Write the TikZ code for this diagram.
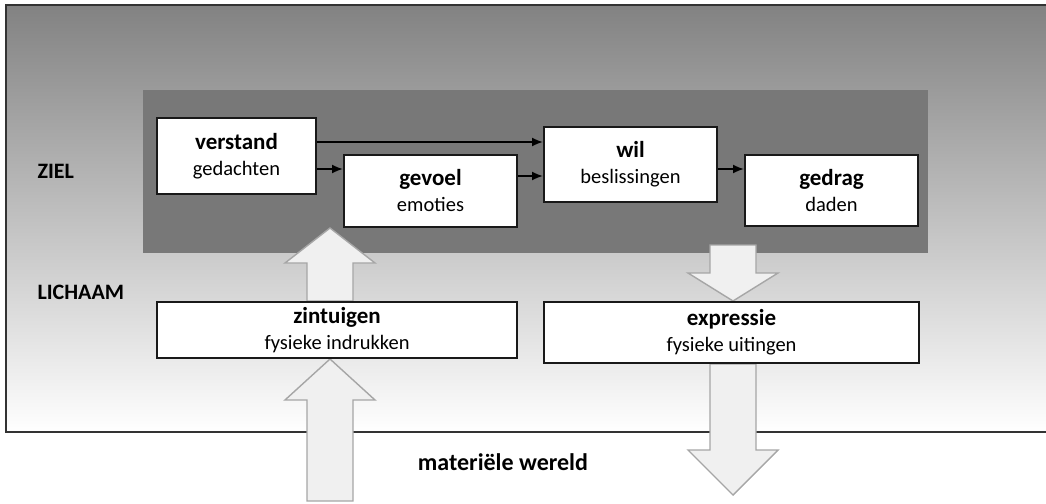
\documentclass[tikz,border=0pt]{standalone}
\usepackage{fontspec}
\setmainfont{Carlito}
\usepackage{tikz}
\usetikzlibrary{arrows.meta, positioning, calc, backgrounds}
\tikzstyle{pijl} = [line width=1.8pt,-{Latex[length=11pt,width=9pt]}]
\tikzstyle{vak} = [draw=black!90, line width=2pt, fill=white, align=center, inner sep=0pt, font=\fontsize{20.5}{26}\selectfont]
\tikzstyle{label} = [font=\fontsize{22}{26}\selectfont\bfseries]
\tikzstyle{blokpijl} = [draw=black!35, line width=1.4pt, fill=black!6]
\newcommand{\kop}[1]{{\fontsize{23}{26}\selectfont\bfseries #1}}
% block arrow: tail, tip, head length
\newcommand{\dikkepijl}[3]{%
  \filldraw[blokpijl] let \p1=(#1), \p2=(#2) in
    ({\x1-23pt},\y1) -- ({\x1-23pt},{\y2-(#3)}) -- ({\x1-45pt},{\y2-(#3)}) -- (\x1,\y2)
    -- ({\x1+45pt},{\y2-(#3)}) -- ({\x1+23pt},{\y2-(#3)}) -- ({\x1+23pt},\y1) -- cycle;}

\begin{document}
\begin{tikzpicture}[x=1pt, y=-1pt]
    \useasboundingbox (0,0) rectangle (1046,503);

    % frame and ziel panel
    \begin{scope}[on background layer]
        \draw[draw=black!80, line width=1.5pt, top color=black!49, bottom color=white] (6,5) rectangle (1056,432);
        \node[fill=black!53, inner sep=0pt, minimum width=785, minimum height=163] (zielvlak) at (535.5,171.5) {};
    \end{scope}

    % ZIEL
    \node[vak, minimum width=159, minimum height=76] (verstand) at (236.5,156) {\kop{verstand}\\gedachten};
    \node[vak, minimum width=173, minimum height=72] (gevoel) at (430.5,191) {\kop{gevoel}\\emoties};
    \node[vak, minimum width=173, minimum height=75] (wil) at (630.5,164.5) {\kop{wil}\\beslissingen};
    \node[vak, minimum width=173, minimum height=71] (gedrag) at (831.5,190.5) {\kop{gedrag}\\daden};

    % LICHAAM
    \node[vak, minimum width=360, minimum height=56] (zintuigen) at (337,330) {\kop{zintuigen}\\fysieke indrukken};
    \node[vak, minimum width=375, minimum height=61] (expressie) at (731.5,332.5) {\kop{expressie}\\fysieke uitingen};

    % Labels
    \node[label, anchor=west] (ziel) at (34,171) {ZIEL};
    \node[label, anchor=west] (lichaam) at (34,292) {LICHAAM};
    \node[label, font=\fontsize{24}{26}\selectfont\bfseries] (wereld) at (503,462) {materiële wereld};

    % Arrows
    \draw[pijl] ([yshift=14pt]verstand.east) -- ([yshift=14pt]verstand.east -| wil.west);
    \draw[pijl] ([yshift=-13pt]verstand.east) -- ([yshift=-13pt]verstand.east -| gevoel.west);
    \draw[pijl] ([yshift=15pt]gevoel.east) -- ([yshift=15pt]gevoel.east -| wil.west);
    \draw[pijl] ([yshift=-4.5pt]wil.east) -- ([yshift=-4.5pt]wil.east -| gedrag.west);

    % Block arrows
    \coordinate (links) at (330,0);
    \coordinate (rechts) at (733,0);
    \coordinate (bodem) at (330,501);
    \coordinate (rechtsboven) at (733,245);
    \coordinate (onder) at (733,495);
    \begin{scope}[on background layer]
        \dikkepijl{bodem}{links |- zintuigen.south}{41pt}
        \dikkepijl{links |- zintuigen.north}{links |- gevoel.south}{35pt}
        \dikkepijl{rechtsboven}{rechts |- expressie.north}{-28pt}
        \dikkepijl{rechts |- expressie.south}{onder}{-45pt}
    \end{scope}
\end{tikzpicture}
\end{document}
